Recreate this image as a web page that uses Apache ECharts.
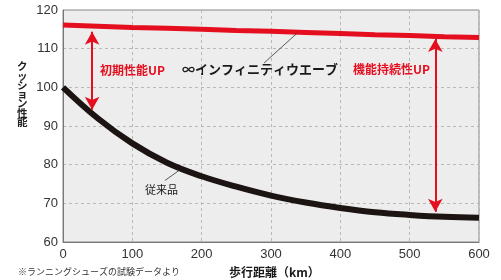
<!DOCTYPE html>
<html><head><meta charset="utf-8">
<script src="https://cdn.jsdelivr.net/npm/echarts@6/dist/echarts.min.js"></script>
<style>html,body{margin:0;padding:0;background:#fff}#c{width:501px;height:280px}</style>
</head><body><div id="c"></div>
<script>
// Data
const distanceKm = [0, 50, 100, 150, 200, 250, 300, 350, 400, 450, 500, 550, 600];
const conventional = [100, 92, 85.5, 80.5, 77, 74.3, 72, 70.2, 68.8, 67.7, 67, 66.5, 66.3];
const infinityWave = [116.1, 115.8, 115.5, 115.3, 115.0, 114.7, 114.5, 114.2, 113.9, 113.6, 113.4, 113.1, 112.9];
const yTicks = [60, 70, 80, 90, 100, 110, 120];
const xTicks = [0, 100, 200, 300, 400, 500, 600];
// annotation arrows (km, from, to)
const arrowInitial = [42, 114.4, 94.2];
const arrowDurable = [537, 112.5, 67.8];
// leader lines: [x1,y1,x2,y2] in data units
const leaderWave = [290, 106.3, 337, 113.9];
const leaderConv = [147, 75.9, 168, 78.6];

const JP = '"Noto Sans CJK JP", sans-serif';
const RED = '#e50e1f';
const chart = echarts.init(document.getElementById('c'));
const gridL = 63, gridR = 22, gridT = 10, gridB = 38;
chart.setOption({
  animation: false,
  grid: {left: gridL, right: gridR, top: gridT, bottom: gridB, show: true, backgroundColor: '#ededed', borderColor: '#888', borderWidth: 1},
  xAxis: {type: 'value', min: xTicks[0], max: xTicks[xTicks.length-1], interval: 100,
    axisLine: {lineStyle: {color: '#777', width: 1}}, axisTick: {show: false},
    axisLabel: {color: '#333', fontSize: 13, fontFamily: 'Liberation Sans, Arial', margin: 6},
    splitLine: {show: true, lineStyle: {color: '#b8b8b8', type: [3, 3], width: 1}}},
  yAxis: {type: 'value', min: yTicks[0], max: yTicks[yTicks.length-1], interval: 10,
    axisLine: {show: true, lineStyle: {color: '#777', width: 1}}, axisTick: {show: false},
    axisLabel: {color: '#333', fontSize: 13, fontFamily: 'Liberation Sans, Arial', margin: 5},
    splitLine: {show: true, lineStyle: {color: '#b8b8b8', type: [3, 3], width: 1}}},
  series: [
    {type: 'line', data: distanceKm.map((x, i) => [x, conventional[i]]), smooth: 0.4, symbol: 'none',
     lineStyle: {color: '#1c1412', width: 6}, z: 3,
     markLine: {silent: true, symbol: 'none', label: {show: false},
       lineStyle: {color: '#333', width: 0.8, type: 'solid'},
       data: [[{coord: [leaderConv[0], leaderConv[1]]}, {coord: [leaderConv[2], leaderConv[3]]}]]}},
    {type: 'line', data: distanceKm.map((x, i) => [x, infinityWave[i]]), symbol: 'none',
     lineStyle: {color: RED, width: 5}, z: 3,
     markLine: {silent: true, symbol: 'none', label: {show: false},
       lineStyle: {color: '#333', width: 0.8, type: 'solid'},
       data: [[{coord: [leaderWave[0], leaderWave[1]]}, {coord: [leaderWave[2], leaderWave[3]]}]]}},
    {type: 'line', data: [], markLine: {silent: true, symbol: ['arrow', 'arrow'], symbolSize: [11, 13],
       label: {show: false}, lineStyle: {color: RED, width: 2, type: 'solid'},
       data: [
         [{coord: [arrowInitial[0], arrowInitial[1]]}, {coord: [arrowInitial[0], arrowInitial[2]]}],
         [{coord: [arrowDurable[0], arrowDurable[1]]}, {coord: [arrowDurable[0], arrowDurable[2]]}]
       ]}}
  ],
  graphic: [
    {type: 'text', left: 100, top: 64, style: {text: '初期性能UP', fill: RED, font: 'bold 12px ' + JP}},
    {type: 'text', left: 353, top: 63, style: {text: '機能持続性UP', fill: RED, font: 'bold 12px ' + JP}},
    {type: 'text', left: 182, top: 63, style: {text: '∞インフィニティウエーブ', fill: '#1a1a1a', font: 'bold 13px ' + JP}},
    {type: 'text', left: 145, top: 184, style: {text: '従来品', fill: '#1a1a1a', font: '11px ' + JP}},
    {type: 'text', left: 17, top: 61, style: {text: 'ク\nッ\nシ\nョ\nン\n性\n能', fill: '#222', font: 'bold 10.5px ' + JP, lineHeight: 9.3}},
    {type: 'text', left: 18, top: 267, style: {text: '※ランニングシューズの試験データより', fill: '#333', font: '9px ' + JP}},
    {type: 'text', left: 229, top: 266, style: {text: '歩行距離（km）', fill: '#1a1a1a', font: 'bold 12px ' + JP}}
  ]
});
</script></body></html>
